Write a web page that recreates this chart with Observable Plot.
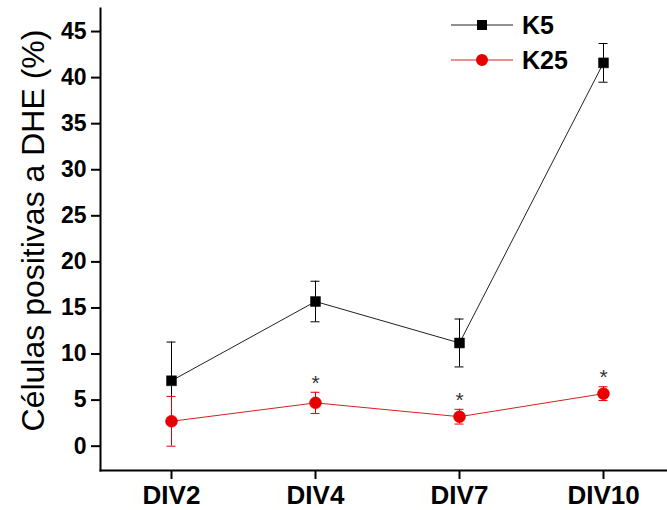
<!DOCTYPE html>
<html>
<head>
<meta charset="utf-8">
<script src="https://cdn.jsdelivr.net/npm/d3@7"></script>
<script src="https://cdn.jsdelivr.net/npm/@observablehq/plot@0.6"></script>
<style>
  html, body { margin: 0; padding: 0; background: #fff; }
  #wrap { position: relative; width: 667px; height: 510px; }
  #legend { position: absolute; left: 440px; top: 0; }
</style>
</head>
<body>
<div id="wrap"></div>
<script>
// ---- data ----
const categories = ["DIV2", "DIV4", "DIV7", "DIV10"];
const seriesNames = ["K5", "K25"];
const k5Mean = [7.1, 15.7, 11.2, 41.6];
const k5Err = [4.2, 2.2, 2.6, 2.1];
const k25Mean = [2.7, 4.7, 3.2, 5.7];
const k25Err = [2.7, 1.15, 0.8, 0.75];
const k25Significant = [false, true, true, true];
const yTicks = [0, 5, 10, 15, 20, 25, 30, 35, 40, 45];
const yLabel = "Células positivas a DHE (%)";

const colors = {K5: "#000000", K25: "#e60000"};
const lineColors = {K5: "#222222", K25: "#d42020"};
const symbols = {K5: "square", K25: "circle"};

const rows = [];
categories.forEach((c, i) => {
  rows.push({series: "K5", cat: c, v: k5Mean[i], lo: k5Mean[i] - k5Err[i], hi: k5Mean[i] + k5Err[i], sig: false});
  rows.push({series: "K25", cat: c, v: k25Mean[i], lo: k25Mean[i] - k25Err[i], hi: k25Mean[i] + k25Err[i], sig: k25Significant[i]});
});
const bySeries = s => rows.filter(d => d.series === s);

const font = "'Liberation Sans', Arial, Helvetica, sans-serif";

function seriesMarks(s) {
  const data = bySeries(s);
  const col = colors[s];
  return [
    Plot.ruleX(data, {x: "cat", y1: "lo", y2: "hi", stroke: col, strokeWidth: 1}),
    Plot.ruleY(data, {x1: "cat", x2: "cat", y: "hi", stroke: col, strokeWidth: 1, insetLeft: -4.5, insetRight: -4.5}),
    Plot.ruleY(data, {x1: "cat", x2: "cat", y: "lo", stroke: col, strokeWidth: 1, insetLeft: -4.5, insetRight: -4.5}),
    Plot.line(data, {x: "cat", y: "v", stroke: lineColors[s], strokeWidth: 1}),
    Plot.dot(data, {x: "cat", y: "v", symbol: symbols[s], r: s === "K5" ? 5.6 : 6, fill: col, stroke: col, strokeWidth: 0.5})
  ];
}

const chart = Plot.plot({
  width: 667,
  height: 510,
  marginLeft: 100,
  marginRight: 0,
  marginTop: 8,
  marginBottom: 40,
  x: {type: "point", domain: categories, range: [171, 603], padding: 0},
  y: {domain: [-2.64, 47.5]},
  style: {fontFamily: font, background: "#fff", color: "#000", overflow: "visible"},
  marks: [
    ...seriesMarks("K5"),
    ...seriesMarks("K25"),
    Plot.text(rows.filter(d => d.sig), {x: "cat", y: "hi", text: () => "*", fontSize: 21, fill: "#333", dy: -9, lineAnchor: "middle"}),
    Plot.frame({anchor: "left", strokeWidth: 2}),
    Plot.frame({anchor: "bottom", strokeWidth: 2}),
    Plot.axisY({ticks: yTicks, tickSize: 9, tickPadding: 5, fontSize: 23, fontWeight: "bold", strokeWidth: 2, label: null}),
    Plot.axisX({tickSize: 9, tickPadding: 6, fontSize: 26, fontWeight: "bold", strokeWidth: 2, label: null}),
    Plot.text([yLabel], {frameAnchor: "left", rotate: -90, dx: -67, dy: -9, fontSize: 32, fill: "#000", lineAnchor: "middle", textAnchor: "middle"})
  ]
});
document.getElementById("wrap").appendChild(chart);

// ---- legend (inside the plot, top right) ----
const ns = "http://www.w3.org/2000/svg";
const leg = document.createElementNS(ns, "svg");
leg.setAttribute("id", "legend");
leg.setAttribute("width", 180);
leg.setAttribute("height", 80);
leg.style.fontFamily = font;
seriesNames.forEach((s, i) => {
  const cy = 25 + i * 35;
  const ln = document.createElementNS(ns, "line");
  ln.setAttribute("x1", 11); ln.setAttribute("x2", 73);
  ln.setAttribute("y1", cy); ln.setAttribute("y2", cy);
  ln.setAttribute("stroke", lineColors[s]); ln.setAttribute("stroke-width", 1);
  leg.appendChild(ln);
  const sym = d3.symbol(s === "K5" ? d3.symbolSquare : d3.symbolCircle, s === "K5" ? 100 : 113)();
  const p = document.createElementNS(ns, "path");
  p.setAttribute("d", sym);
  p.setAttribute("transform", `translate(42,${cy})`);
  p.setAttribute("fill", colors[s]);
  leg.appendChild(p);
  const t = document.createElementNS(ns, "text");
  t.setAttribute("x", 82);
  t.setAttribute("y", cy + 9);
  t.setAttribute("font-size", 25);
  t.setAttribute("font-weight", "bold");
  t.setAttribute("fill", "#000");
  t.textContent = s;
  leg.appendChild(t);
});
document.getElementById("wrap").appendChild(leg);
</script>
</body>
</html>
